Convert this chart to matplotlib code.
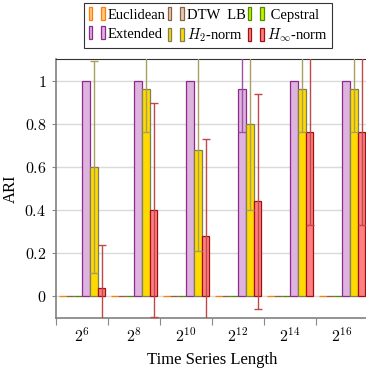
import numpy as np
import matplotlib
matplotlib.use("Agg")
import matplotlib.pyplot as plt
from matplotlib.patches import Patch
from matplotlib.legend_handler import HandlerTuple

plt.rcParams['font.family'] = ['Liberation Serif', 'DejaVu Serif']
plt.rcParams['mathtext.fontset'] = 'cm'

# data
lengths = ['$2^{6}$', '$2^{8}$', '$2^{10}$', '$2^{12}$', '$2^{14}$', '$2^{16}$']
methods = ['Euclidean', 'DTW  LB', ' Cepstral', 'Extended', '$H_2$-norm', r'$H_\infty$-norm']

euclid = [0, 0, 0, 0, 0, 0]
dtw = [0, 0, 0, 0, 0, 0]
cepstral = [0, 0, 0, 0, 0, 0]
extended = [1.0, 1.0, 1.0, 0.96, 1.0, 1.0]
h2 = [0.60, 0.96, 0.68, 0.80, 0.96, 0.96]
hinf = [0.04, 0.40, 0.28, 0.44, 0.76, 0.76]

euclid_std = [0, 0, 0, 0, 0, 0]
dtw_std = [0, 0, 0, 0, 0, 0]
cepstral_std = [0, 0, 0, 0, 0, 0]
extended_std = [0, 0, 0, 0.196, 0, 0]
h2_std = [0.49, 0.196, 0.47, 0.40, 0.196, 0.196]
hinf_std = [0.197, 0.496, 0.45, 0.50, 0.43, 0.43]

values = [euclid, dtw, cepstral, extended, h2, hinf]
stds = [euclid_std, dtw_std, cepstral_std, extended_std, h2_std, hinf_std]

fills = ['#FFC68C', '#E3CDBA', '#C4F200', '#DDB4DD', '#FFD900', '#FF8080']
edges = ['#FF8000', '#8C6040', '#4F8A00', '#8E2A8E', '#7F7F55', '#A01010']
errcols = ['#FF8000', '#8C6040', '#4F8A00', '#A050A8', '#A8A060', '#C04848']

fig = plt.figure(figsize=(3.66, 3.68), dpi=100)
ax = fig.add_axes([56 / 366, 50 / 368, 312 / 366, 259 / 368])

x = np.arange(len(lengths))
w = 0.15
handles = []
for i in range(len(methods)):
    pos = x + (i - 2.5) * w
    std = np.array(stds[i])
    ax.bar(pos, values[i], width=w, color=fills[i], edgecolor=edges[i],
           linewidth=0.9, zorder=3)
    mask = std > 0
    if mask.any():
        ax.errorbar(pos[mask], np.array(values[i])[mask], yerr=std[mask],
                    fmt='none', ecolor=errcols[i], elinewidth=1.0,
                    capsize=3, capthick=1.0, zorder=4)
    p1 = Patch(facecolor=fills[i], edgecolor=edges[i], linewidth=0.9)
    p2 = Patch(facecolor=fills[i], edgecolor=edges[i], linewidth=0.9)
    handles.append((p1, p2))

ax.set_xlim(-0.5, len(lengths) - 0.5)
ax.set_ylim(-0.1, 1.1)
ax.set_xticks(x)
ax.set_xticklabels(lengths, fontsize=11.5)
ax.set_xticks(np.append(x - 0.5, x[-1] + 0.5), minor=True)
ax.tick_params(axis='x', which='major', length=0, pad=7)
ax.tick_params(axis='x', which='minor', length=5, color='#888888', width=0.8)
yt = [0, 0.2, 0.4, 0.6, 0.8, 1]
ax.set_yticks(yt)
ax.set_yticklabels(['$0$', '$0.2$', '$0.4$', '$0.6$', '$0.8$', '$1$'], fontsize=11.5)
ax.tick_params(axis='y', length=3, color='#888888', width=0.8, pad=4)
ax.yaxis.grid(True, color='#DADADA', linewidth=1.0, zorder=0)
ax.set_axisbelow(True)
for s in ['left', 'bottom']:
    ax.spines[s].set_color('#808080')
    ax.spines[s].set_linewidth(1.2)
ax.spines['top'].set_color('#333333')
ax.spines['right'].set_color('#333333')

ax.set_ylabel('ARI', fontsize=12)
ax.set_xlabel('Time Series Length', fontsize=12)

# legend fills column by column, reorder so rows read like the reference
order = [0, 3, 1, 4, 2, 5]
leg = fig.legend([handles[k] for k in order], [methods[k] for k in order],
                 ncol=3, loc='upper center',
                 bbox_to_anchor=(208 / 366, 1 - 3 / 368), borderaxespad=0,
                 handler_map={tuple: HandlerTuple(ndivide=None, pad=0.6)},
                 handlelength=1.1, handleheight=1.0, handletextpad=0.2,
                 columnspacing=0.15, labelspacing=0.3, borderpad=0.3,
                 fontsize=10.5, frameon=True, fancybox=False, edgecolor='black')
leg.get_frame().set_linewidth(0.8)

fig.savefig('out.png', dpi=100)
